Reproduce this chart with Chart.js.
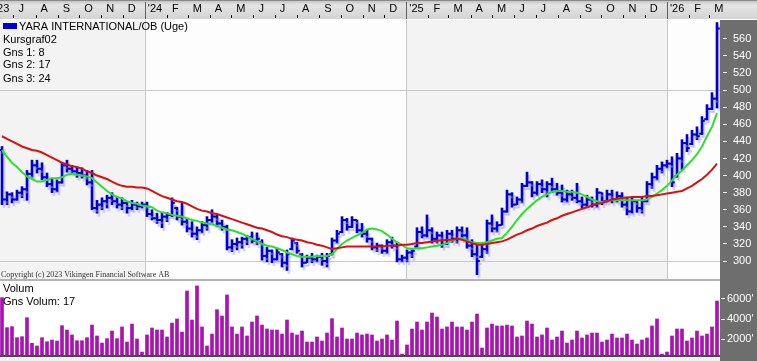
<!DOCTYPE html>
<html>
<head>
<meta charset="utf-8">
<script src="https://cdn.jsdelivr.net/npm/chart.js@4.4.1/dist/chart.umd.min.js"></script>
<style>
html, body { margin: 0; padding: 0; background: #fff; overflow: hidden; }
#wrap { position: relative; width: 757px; height: 361px; }
#c1 { position: absolute; left: 0; top: 0; }
#c2 { position: absolute; left: 0; top: 279px; }
</style>
</head>
<body>
<div id="wrap">
  <canvas id="c1" width="757" height="279"></canvas>
  <canvas id="c2" width="757" height="82"></canvas>
</div>
<script>
"use strict";

// weekly bars, first one is the week of 15 June 2023
const firstWeek = Date.UTC(2023, 5, 15);

// month labels along the top, June 2023 .. March 2026
const headerLabels = ["'23","J","A","S","O","N","D","'24","F","M","A","M","J","J","A","S","O","N","D",
  "'25","F","M","A","M","J","J","A","S","O","N","D","'26","F","M"];

const priceTicks = [300,320,340,360,380,400,420,440,460,480,500,520,540,560];
const volumeTicks = [2000,4000,6000];

const priceHigh = [434,381,380,383,387,406,418,418,415,403, 397,395,415,418,412,410,409,406,406,371,
  374,377,380,375,374,369,371,369,369,369, 360,356,356,357,374,363,368,350,346,340,
  346,352,360,354,348,342,325,327,328,330, 334,333,325,316,313,315,309,313,327,322,
  309,307,309,307,309,309,327,336,352,350, 352,348,344,336,327,321,319,325,328,322,
  307,313,315,339,340,354,339,334,334,336, 336,340,340,339,325,321,319,348,354,346,
  362,383,380,375,391,404,393,393,395,393, 397,391,389,383,383,391,375,377,375,385,
  380,383,383,381,380,375,374,371,374,393, 403,412,416,418,422,426,442,448,453,457,
  469,483,497,579];
const priceLow = [366,366,368,371,374,371,398,403,395,387, 380,381,391,404,403,398,397,389,360,356,
  360,362,366,362,360,356,360,360,362,352, 348,344,339,346,352,348,342,334,328,325,
  333,336,345,340,336,313,311,313,315,319, 321,319,301,299,298,301,293,289,313,309,
  293,298,298,299,295,293,307,321,333,336, 339,333,328,322,313,311,309,309,315,299,
  299,299,304,316,327,328,321,321,316,319, 322,321,325,315,305,284,304,309,334,334,
  342,357,363,366,368,387,375,377,380,375, 380,377,369,369,371,368,362,363,363,363,
  366,369,368,369,363,354,356,357,356,369, 385,395,403,409,387,398,407,428,436,442,
  448,465,477,479];
const priceOpen = [430,372,378,372,380,384,402,412,408,398, 390,384,392,412,408,405,403,400,392,362,
  366,370,374,370,366,368,362,366,364,366, 355,350,348,352,354,362,352,346,338,332,
  336,342,348,352,344,340,316,320,322,326, 328,324,322,306,312,302,308,298,314,321,
  308,298,304,302,305,300,308,324,334,348, 340,348,336,332,326,316,318,312,322,318,
  302,304,310,317,334,330,336,326,330,320, 332,326,336,330,318,308,305,314,344,338,
  342,358,378,366,372,388,392,380,390,384, 390,384,380,372,378,374,370,366,372,366,
  380,370,378,372,376,366,358,370,362,370, 390,398,408,412,414,399,420,438,437,448,
  449,466,478,490];
const priceClose = [372,378,372,380,384,402,412,408,398,390, 384,392,412,408,405,403,400,392,362,366,
  370,374,370,366,368,362,366,364,366,355, 350,348,352,354,368,352,346,338,332,336,
  342,348,352,344,340,316,320,322,326,328, 324,326,306,312,302,310,298,308,324,312,
  298,304,302,305,300,306,324,332,348,340, 348,336,332,326,316,318,312,322,318,302,
  304,310,312,334,330,336,326,330,320,332, 326,336,330,318,308,300,314,344,338,342,
  358,378,366,372,388,392,380,390,384,390, 384,380,372,378,374,370,366,372,366,380,
  370,378,372,376,366,358,370,362,370,390, 398,408,412,414,392,420,438,432,448,446,
  464,478,490,572];

// moving averages as drawn (green = Gns 1: 8, red = Gns 3: 24)
const maGreen = [430,422,415,410,404,399,396,393,393,395, 397,397,398,401,402,401,400,399,397,392,
  387,382,378,375,373,370,368,367,365,364, 363,359,357,356,354,353,352,350,348,347,
  345,344,343,341,339,337,336,334,332,329, 326,323,320,318,317,315,313,310,308,306,
  305,305,305,306,306,306,308,314,320,324, 327,330,333,337,338,337,335,331,326,322,
  319,315,314,315,315,316,317,318,319,321, 324,326,327,324,322,321,321,322,324,326,
  327,333,340,348,355,361,366,371,375,378, 381,382,382,381,381,380,378,375,372,370,
  369,370,371,371,371,371,371,371,371,372, 375,379,383,388,394,401,406,412,418,425,
  434,446,457,473];
const maRed = [446,443,440,437,434,432,430,429,427,424, 421,418,415,413,411,410,408,405,403,400,
  398,396,393,390,388,387,387,386,386,385, 382,379,376,374,372,370,369,367,364,361,
  359,358,356,355,353,351,349,347,345,343, 341,339,338,336,334,331,329,328,326,325,
  324,322,321,319,318,316,314,315,316,317, 317,317,317,317,317,317,317,318,318,318,
  319,319,320,321,321,322,323,324,324,325, 325,326,325,323,321,319,319,320,321,322,
  323,325,328,331,333,336,338,341,343,345, 348,350,353,355,357,359,361,363,365,367,
  368,370,372,373,374,374,375,375,375,376, 376,377,378,379,380,381,382,385,388,392,
  396,401,407,414];

const volume = [6110,3140,3240,2150,2250,4130,1590,1330,2150,1750, 1920,1820,3340,2910,2420,1850,1850,2150,3400,2320,
  1620,2050,2810,2050,3210,1720,3500,2020,730,2420, 3110,2910,2910,2220,3600,4000,2710,6770,3900,7270,
  3210,1330,2510,4920,4300,6380,3210,2510,3210,2320, 3700,4300,3400,3010,2910,2910,2510,3900,2610,2420,
  2810,1720,1720,2220,1820,2610,4030,2220,3110,2020, 2020,2610,2420,2510,2420,1820,2020,2420,1920,3800,
  530,1430,3010,3700,2910,3700,4590,4200,3010,3210, 3700,3210,3210,2910,3700,4490,1130,3110,3500,3310,
  3310,3400,3310,2220,2320,3800,3500,2220,2420,3110, 1920,2220,2810,1620,1920,2810,2120,2420,2610,2610,
  1720,1920,2510,2120,2120,2510,1920,1520,1920,2120, 3310,4000,530,730,2320,3010,3010,1820,2120,2810,
  2320,2510,3210,5780];

const FONT = "'Liberation Sans', Arial, sans-serif";
const blue = '#0000d0';
const axisGray = '#6e6e6e';

function weeksFrom(y, m) {
    return (Date.UTC(y, m, 1) - firstWeek) / 604800000;
}

const idx = priceHigh.map((v, i) => i);

const xOpts = { type: 'linear', display: false, min: -0.4, max: 143.6, offset: false };

// keep the right axis a fixed width and stop it from padding the plot
function fixAxis(s) {
    s.width = 37;
    s.paddingTop = 0;
    s.paddingBottom = 0;
}

// background, header band and texts for the price panel
const pricePaint = {
    id: 'pricePaint',
    beforeDraw(chart) {
        const { ctx, chartArea: a, scales: { x } } = chart;
        ctx.save();
        ctx.fillStyle = '#ffffff';
        ctx.fillRect(0, 0, chart.width, chart.height);

        let edges = [a.left];
        [2024, 2025, 2026].forEach(yr => edges.push(x.getPixelForValue(weeksFrom(yr, 0))));
        edges.push(a.right);
        for (let k = 0; k < edges.length - 1; k++) {
            ctx.fillStyle = k % 2 === 0 ? '#f3f3f3' : '#fdfdfd';
            ctx.fillRect(edges[k], a.top, edges[k + 1] - edges[k], a.bottom - a.top);
        }

        ctx.fillStyle = axisGray;
        ctx.fillRect(a.right, a.top, chart.width - a.right, chart.height - a.top);

        // top date band
        let g = ctx.createLinearGradient(0, 0, 0, 19);
        g.addColorStop(0, '#bcbcbc');
        g.addColorStop(0.25, '#e4e4e4');
        g.addColorStop(1, '#d4d4d4');
        ctx.fillStyle = g;
        ctx.fillRect(0, 0, chart.width, 19);
        ctx.fillStyle = '#8a8a8a';
        ctx.fillRect(0, 0, chart.width, 1);

        ctx.font = '11px ' + FONT;
        ctx.textBaseline = 'alphabetic';
        ctx.textAlign = 'left';
        headerLabels.forEach((lab, k) => {
            const yr = 2023 + Math.floor((5 + k) / 12);
            const m = (5 + k) % 12;
            const p = x.getPixelForValue(weeksFrom(yr, m));
            const isYear = (m === 0 || k === 0);
            ctx.fillStyle = '#000000';
            ctx.fillText(lab, p + (isYear ? 3 : 5), 12);
            if (m === 0) {
                ctx.fillStyle = '#606060';
                ctx.fillRect(Math.round(p), 2, 1, 17);
            } else if (k > 0) {
                ctx.fillStyle = '#000000';
                ctx.fillRect(Math.round(p), 15, 1, 3);
            }
        });
        ctx.restore();
    },
    beforeDatasetsDraw(chart) {
        const { ctx, chartArea: a, scales: { x } } = chart;
        ctx.save();
        ctx.fillStyle = '#c6c6c6';
        [2024, 2025, 2026].forEach(yr => {
            const p = Math.round(x.getPixelForValue(weeksFrom(yr, 0)));
            ctx.fillRect(p, a.top, 1, a.bottom - a.top);
        });
        ctx.restore();
    },
    beforeDatasetDraw(chart, args) {
        if (args.meta.type === 'bar' || args.meta._dataset.ohlc) {
            const ctx = chart.ctx;
            ctx.save();
            ctx.shadowColor = 'rgba(150,150,215,0.4)';
            ctx.shadowOffsetX = 2;
            ctx.shadowOffsetY = 3;
            ctx.shadowBlur = 0;
        }
    },
    afterDatasetDraw(chart, args) {
        if (args.meta.type === 'bar' || args.meta._dataset.ohlc) {
            chart.ctx.restore();
        }
    },
    afterDraw(chart) {
        const ctx = chart.ctx;
        ctx.save();
        ctx.fillStyle = blue;
        ctx.fillRect(3, 23, 14, 6);
        ctx.fillStyle = '#000000';
        ctx.font = '11px ' + FONT;
        ctx.textAlign = 'left';
        ctx.textBaseline = 'alphabetic';
        ctx.fillText('YARA INTERNATIONAL/OB (Uge)', 19, 30);
        ctx.fillText('Kursgraf02', 3, 43);
        ctx.fillText('Gns 1: 8', 3, 56);
        ctx.fillText('Gns 2: 17', 3, 68);
        ctx.fillText('Gns 3: 24', 3, 82);
        ctx.fillStyle = '#333333';
        ctx.font = "8px 'Liberation Serif', 'Times New Roman', serif";
        ctx.fillText('Copyright (c) 2023 Vikingen Financial Software AB', 1, 277);
        ctx.restore();
    }
};

let c1 = document.querySelector('#c1');
let chart1 = new Chart(c1, {
    type: 'bar',
    data: {
        datasets: [
            { type: 'line', label: 'Gns 3: 24', data: idx.map(i => ({ x: i, y: maRed[i] })),
              borderColor: '#d81010', borderWidth: 2, pointRadius: 0, order: 0 },
            { type: 'line', label: 'Gns 1: 8', data: idx.map(i => ({ x: i, y: maGreen[i] })),
              borderColor: '#2ee02e', borderWidth: 2, pointRadius: 0, order: 1 },
            { type: 'bar', label: 'YARA', data: idx.map(i => ({ x: i, y: [priceLow[i], priceHigh[i]] })),
              backgroundColor: blue, borderWidth: 0, barThickness: 2, grouped: false, order: 4 },
            { type: 'line', ohlc: true, label: 'open', data: idx.map(i => ({ x: i - 0.3, y: priceOpen[i] })),
              showLine: false, pointStyle: 'line', pointRadius: 1.3, pointBorderWidth: 2,
              pointBorderColor: blue, order: 3 },
            { type: 'line', ohlc: true, label: 'close', data: idx.map(i => ({ x: i + 0.3, y: priceClose[i] })),
              showLine: false, pointStyle: 'line', pointRadius: 1.3, pointBorderWidth: 2,
              pointBorderColor: blue, order: 2 },
        ]
    },
    options: {
        responsive: false,
        animation: false,
        events: [],
        layout: { autoPadding: false, padding: { top: 20, right: 0, bottom: 0, left: 0 } },
        plugins: { legend: { display: false }, tooltip: { enabled: false } },
        scales: {
            x: xOpts,
            y: {
                position: 'right', min: 279, max: 582,
                afterFit: fixAxis,
                afterBuildTicks(s) { s.ticks = priceTicks.map(v => ({ value: v })); },
                grid: {
                    color: c => (c.tick && (c.tick.value === 300 || c.tick.value === 500)) ? '#c9c9c9' : 'rgba(0,0,0,0)',
                    tickColor: '#ffffff', tickLength: 8, tickBorderDash: [0, 3, 4, 30]
                },
                border: { display: false },
                ticks: { color: '#ffffff', font: { family: FONT, size: 11 }, padding: 5 }
            }
        }
    },
    plugins: [pricePaint]
});

// volume panel
const volPaint = {
    id: 'volPaint',
    beforeDraw(chart) {
        const { ctx, chartArea: a } = chart;
        ctx.save();
        ctx.fillStyle = '#ffffff';
        ctx.fillRect(0, 0, chart.width, chart.height);
        ctx.fillStyle = '#b4b4b4';
        ctx.fillRect(0, 0, a.right, 2);
        ctx.fillStyle = '#f0f0f0';
        ctx.fillRect(0, a.bottom + 2, a.right, chart.height - a.bottom - 2);
        ctx.fillStyle = '#4a4a4a';
        ctx.fillRect(0, a.bottom, a.right, 2);
        ctx.fillStyle = axisGray;
        ctx.fillRect(a.right, 0, chart.width - a.right, chart.height);
        ctx.restore();
    },
    afterDraw(chart) {
        const ctx = chart.ctx;
        ctx.save();
        ctx.fillStyle = '#000000';
        ctx.font = '11px ' + FONT;
        ctx.textBaseline = 'alphabetic';
        ctx.fillText('Volum', 3, 13);
        ctx.fillText('Gns Volum: 17', 3, 26);
        ctx.restore();
    }
};

let c2 = document.querySelector('#c2');
let chart2 = new Chart(c2, {
    type: 'bar',
    data: {
        datasets: [
            { label: 'Volum', data: idx.map(i => ({ x: i, y: volume[i] })),
              backgroundColor: '#aa12b4', borderWidth: 0, barThickness: 3 }
        ]
    },
    options: {
        responsive: false,
        animation: false,
        events: [],
        layout: { autoPadding: false, padding: { top: 2, right: 0, bottom: 6, left: 0 } },
        plugins: { legend: { display: false }, tooltip: { enabled: false } },
        scales: {
            x: xOpts,
            y: {
                position: 'right', min: 436, max: 7762,
                afterFit: fixAxis,
                afterBuildTicks(s) { s.ticks = volumeTicks.map(v => ({ value: v })); },
                grid: { color: 'rgba(0,0,0,0)', tickColor: '#ffffff', tickLength: 5, tickBorderDash: [0, 1, 4, 30] },
                border: { display: false },
                ticks: { color: '#ffffff', font: { family: FONT, size: 11 }, padding: 2,
                         callback: v => v + "'" }
            }
        }
    },
    plugins: [volPaint]
});
</script>
</body>
</html>
